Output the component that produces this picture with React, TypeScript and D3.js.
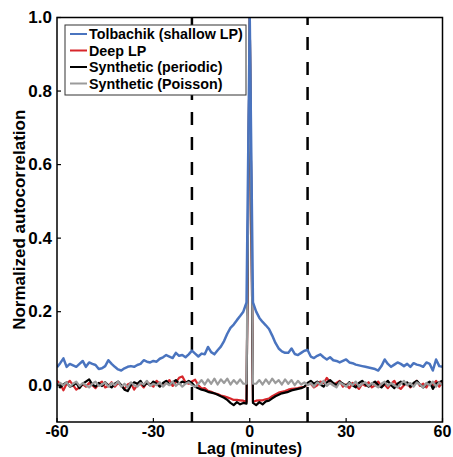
import React from 'react';
import * as d3 from 'd3';

// ---- data ----
const lagStart = -60;
const lagEnd = 60;
const xTickValues = [-60, -30, 0, 30, 60];
const yTickValues = [0, 0.2, 0.4, 0.6, 0.8, 1.0];
const boundaryLags = [-18, 18];

const seriesNames = ['Tolbachik (shallow LP)', 'Deep LP', 'Synthetic (periodic)', 'Synthetic (Poisson)'];
const seriesColors = ['#4a74bf', '#d7262b', '#000000', '#9b9b9b'];

// lag -60 .. 60, one value per minute
const tolbachik = [
  0.049, 0.06, 0.073, 0.05, 0.058, 0.054, 0.05, 0.058, 0.066, 0.05,
  0.062, 0.058, 0.055, 0.044, 0.046, 0.052, 0.068, 0.058, 0.05, 0.043,
  0.04, 0.046, 0.05, 0.052, 0.05, 0.055, 0.058, 0.068, 0.064, 0.062,
  0.066, 0.064, 0.072, 0.076, 0.082, 0.078, 0.074, 0.088, 0.08, 0.082,
  0.076, 0.084, 0.094, 0.086, 0.078, 0.086, 0.084, 0.104, 0.09, 0.084,
  0.095, 0.105, 0.12, 0.14, 0.156, 0.165, 0.177, 0.188, 0.2, 0.225,
  1.0,
  0.225, 0.2, 0.183, 0.172, 0.163, 0.153, 0.135, 0.115, 0.1, 0.092,
  0.088, 0.088, 0.1, 0.085, 0.082, 0.088, 0.094, 0.096, 0.078, 0.074,
  0.08, 0.084, 0.076, 0.07, 0.076, 0.068, 0.066, 0.062, 0.066, 0.07,
  0.062, 0.06, 0.056, 0.054, 0.052, 0.05, 0.048, 0.046, 0.044, 0.04,
  0.052, 0.07, 0.058, 0.05, 0.056, 0.062, 0.058, 0.052, 0.058, 0.05,
  0.06, 0.056, 0.054, 0.05, 0.062, 0.058, 0.04, 0.07, 0.052, 0.05,
];

const deepLP = [
  0.012, 0.004, -0.014, 0.004, 0.012, 0.0, -0.012, -0.006, 0.003, -0.004,
  0.006, 0.0, -0.008, 0.004, 0.01, -0.006, -0.002, 0.008, -0.004, 0.006,
  0.0, -0.01, 0.002, 0.006, -0.012, 0.0, 0.004, -0.006, 0.008, 0.003,
  -0.004, 0.012, 0.004, -0.002, 0.006, 0.014, -0.002, 0.008, 0.02, 0.024,
  0.008, 0.004,
  0.01, 0.015, 0.0, -0.009, -0.008, -0.015, -0.018, -0.022, -0.024, -0.028,
  -0.03, -0.033, -0.036, -0.04, -0.04, -0.041, -0.042, -0.045,
  1.0,
  -0.045, -0.042, -0.041, -0.041, -0.038, -0.036, -0.03, -0.025, -0.02, -0.018,
  -0.016, -0.012, -0.01, -0.009, -0.008, -0.006, -0.004, 0.002,
  0.004, -0.006, 0.0, 0.01, 0.006, 0.02, 0.008, 0.0, 0.006, 0.012,
  -0.004, 0.002, -0.008, 0.006, 0.0, -0.01, 0.004, -0.002, 0.008, -0.006,
  0.0, 0.01, -0.004, 0.002, -0.008, 0.004, 0.012, -0.004, -0.01, 0.0,
  0.006, -0.006, 0.002, 0.012, -0.002, 0.004, -0.006, 0.008, 0.0, 0.012,
  -0.004, 0.01,
];

const synthPeriodic = [
  0.004, -0.006, 0.002, 0.008, -0.004, 0.0, 0.006, -0.008, 0.004, 0.01,
  0.016, 0.002, -0.004, 0.006, -0.002, 0.008, 0.0, -0.006, 0.004, 0.01,
  0.0, -0.012, -0.016, 0.0, 0.008, 0.004, 0.012, -0.002, 0.006, 0.0,
  0.01, 0.004, -0.004, 0.006, 0.012, 0.002, 0.008, 0.014, 0.004, 0.01,
  0.006, 0.012,
  0.006, -0.004, -0.008, -0.012, -0.014, -0.018, -0.02, -0.022, -0.026, -0.03,
  -0.034, -0.04, -0.048, -0.054, -0.046, -0.052, -0.048, -0.05,
  1.0,
  -0.048, -0.054, -0.046, -0.052, -0.044, -0.042, -0.036, -0.03, -0.026, -0.022,
  -0.02, -0.018, -0.014, -0.012, -0.01, -0.008, -0.004, 0.006,
  0.012, 0.004, 0.01, 0.002, -0.004, 0.008, 0.014, 0.006, 0.0, 0.01,
  0.004, -0.002, 0.008, 0.0, -0.006, 0.006, 0.012, 0.002, -0.004, 0.004,
  0.01, 0.0, -0.006, 0.004, 0.012, 0.0, -0.008, 0.004, 0.01, 0.002,
  0.008, -0.004, 0.006, 0.012, 0.002, -0.006, 0.004, 0.01, -0.01, 0.004,
  0.008, 0.012,
];

const synthPoisson = [
  -0.006, 0.006, 0.0, 0.008, -0.004, 0.004, 0.01, -0.002, 0.006, 0.0,
  -0.006, 0.004, 0.01, -0.002, 0.002, 0.008, -0.004, 0.006, 0.0, 0.01,
  -0.004, 0.004, -0.006, 0.008, 0.0, -0.004, 0.006, 0.002, 0.012, -0.002,
  0.004, 0.0, 0.008, -0.004, 0.006, 0.0, 0.01, -0.002, 0.006, -0.004,
  0.004, 0.008,
  0.0, -0.004, 0.004, 0.014, 0.002, 0.016, 0.004, 0.018, 0.002, 0.016,
  0.006, 0.018, 0.002, 0.014, 0.004, 0.016, 0.004, 0.004,
  1.0,
  0.004, 0.004, 0.014, 0.002, 0.016, 0.004, 0.018, 0.006, 0.014, 0.002,
  0.016, 0.004, 0.014, 0.0, 0.012, 0.002, 0.008, 0.0,
  0.006, -0.004, 0.008, 0.002, 0.012, -0.002, 0.006, 0.0, -0.006, 0.008,
  0.002, -0.004, 0.006, 0.0, 0.01, -0.004, 0.004, 0.008, -0.002, 0.006,
  0.0, -0.006, 0.004, 0.01, -0.002, 0.006, 0.0, -0.006, 0.004, 0.012,
  0.0, 0.006, -0.004, 0.008, 0.002, -0.006, 0.006, 0.0, 0.01, -0.004,
  0.008, 0.0,
];

const seriesValues = [tolbachik, deepLP, synthPeriodic, synthPoisson];
const seriesWidths = [2.5, 2.2, 2.2, 2.2];
// draw order: red, black, gray, blue on top
const drawOrder = [1, 2, 3, 0];

const W = 453;
const H = 457;
const plot = { left: 57, right: 442.5, top: 17.5, bottom: 422 };
const FONT = '"Liberation Sans", Arial, Helvetica, sans-serif';

export default function App() {
  const lags = d3.range(lagStart, lagEnd + 1);
  const x = d3.scaleLinear().domain([lagStart, lagEnd]).range([plot.left, plot.right]);
  const y = d3.scaleLinear().domain([-0.1, 1.0]).range([plot.bottom, plot.top]);

  const line = d3
    .line<number>()
    .x((_, i) => x(lags[i]))
    .y((d) => y(d));

  return (
    <svg
      width={W}
      height={H}
      style={{ position: 'absolute', left: 0, top: 0, background: '#fff' }}
      fontFamily={FONT}
    >
      <defs>
        <clipPath id="plotclip">
          <rect x={plot.left} y={plot.top} width={plot.right - plot.left} height={plot.bottom - plot.top} />
        </clipPath>
      </defs>
      <rect x={0} y={0} width={W} height={H} fill="#fff" />

      {/* boundary dashed lines */}
      {boundaryLags.map((b) => (
        <line
          key={b}
          x1={x(b)}
          x2={x(b)}
          y1={plot.top}
          y2={plot.bottom}
          stroke="#000"
          strokeWidth={2.5}
          strokeDasharray="13,12"
          strokeDashoffset={5.4}
        />
      ))}

      {/* series */}
      <g clipPath="url(#plotclip)">
        {drawOrder.map((si) => (
          <path
            key={si}
            d={line(seriesValues[si]) || ''}
            fill="none"
            stroke={seriesColors[si]}
            strokeWidth={seriesWidths[si]}
            strokeLinejoin="round"
          />
        ))}
      </g>

      {/* axes box */}
      <rect
        x={plot.left}
        y={plot.top}
        width={plot.right - plot.left}
        height={plot.bottom - plot.top}
        fill="none"
        stroke="#000"
        strokeWidth={1.5}
      />

      {/* y ticks */}
      {yTickValues.map((t) => (
        <g key={t}>
          <line x1={plot.left} x2={plot.left + 4} y1={y(t)} y2={y(t)} stroke="#000" strokeWidth={1.2} />
          <text
            x={plot.left - 5}
            y={y(t)}
            textAnchor="end"
            dominantBaseline="central"
            fontSize={17}
            fontWeight="bold"
          >
            {t.toFixed(1)}
          </text>
        </g>
      ))}

      {/* x ticks */}
      {xTickValues.map((t) => (
        <g key={t}>
          <line x1={x(t)} x2={x(t)} y1={plot.bottom} y2={plot.bottom - 4} stroke="#000" strokeWidth={1.2} />
          <text x={x(t)} y={437} textAnchor="middle" fontSize={16} fontWeight="bold">
            {t}
          </text>
        </g>
      ))}

      {/* axis labels */}
      <text x={(plot.left + plot.right) / 2} y={454} textAnchor="middle" fontSize={16} fontWeight="bold">
        Lag (minutes)
      </text>
      <text
        transform={`translate(19,${(plot.top + plot.bottom) / 2 + 0}) rotate(-90)`}
        textAnchor="middle"
        dominantBaseline="central"
        fontSize={17}
        fontWeight="bold"
      >
        Normalized autocorrelation
      </text>

      {/* legend */}
      <g>
        <rect x={65} y={25} width={181} height={70} fill="#fff" stroke="#333" strokeWidth={1} />
        {seriesNames.map((name, i) => {
          const cy = 34 + i * 16.5;
          return (
            <g key={name}>
              <line x1={70} x2={87} y1={cy} y2={cy} stroke={seriesColors[i]} strokeWidth={2} />
              <text x={89} y={cy} dominantBaseline="central" fontSize={14.3} fontWeight="bold">
                {name}
              </text>
            </g>
          );
        })}
      </g>
    </svg>
  );
}
